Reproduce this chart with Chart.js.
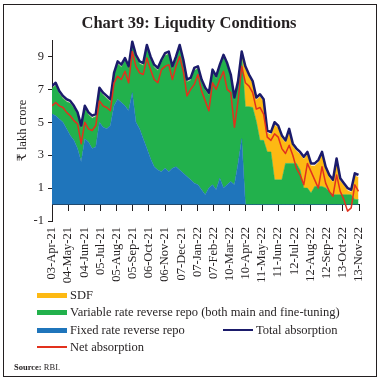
<!DOCTYPE html>
<html><head><meta charset="utf-8">
<script src="https://cdn.jsdelivr.net/npm/chart.js@4.4.1/dist/chart.umd.min.js"></script>
<style>
html,body{margin:0;padding:0;background:#fff;}
#wrap{position:relative;width:380px;height:383px;overflow:hidden;font-family:"Liberation Serif","Times New Roman",serif;color:#231f20;}
#frame{position:absolute;left:3px;top:4px;width:372px;height:371px;border:1px solid #231f20;}
#c{position:absolute;left:0;top:0;}
.t{position:absolute;white-space:nowrap;font-size:12.5px;line-height:14px;}
.sw{position:absolute;width:30px;}
</style></head><body>
<div id="wrap">
<div id="frame"></div>
<canvas id="c" width="380" height="383"></canvas>
<div class="t" style="left:0;width:378px;text-align:center;top:13px;font-size:16.5px;font-weight:bold;line-height:20px;">Chart 39: Liqudity Conditions</div>
<div class="sw" style="left:37px;top:292.5px;height:5px;background:#fdb913;"></div>
<div class="t" style="left:70px;top:288px;">SDF</div>
<div class="sw" style="left:37px;top:309.5px;height:5px;background:#22b14c;"></div>
<div class="t" style="left:70px;top:305px;">Variable rate reverse repo (both main and fine-tuning)</div>
<div class="sw" style="left:37px;top:327.5px;height:5px;background:#1f75bb;"></div>
<div class="t" style="left:70px;top:323px;">Fixed rate reverse repo</div>
<div class="sw" style="left:223px;top:329px;height:2px;background:#1b1b6b;"></div>
<div class="t" style="left:256px;top:323px;">Total absorption</div>
<div class="sw" style="left:37px;top:346px;height:2px;background:#e2311d;"></div>
<div class="t" style="left:70px;top:340px;">Net absorption</div>
<div class="t" style="left:14px;top:362px;font-size:8.5px;line-height:10px;"><b>Source:</b> RBI.</div>
</div>
<script>
// Daily axis: day 0 = 03-Apr-21, one sample per week
const stepDays = 7;
const tickDays = [0,31,62,93,124,155,186,217,248,279,310,341,372,403,434,465,496,527,558,589];
const tickLabels = ['03-Apr-21','04-May-21','04-Jun-21','05-Jul-21','05-Aug-21','05-Sep-21','06-Oct-21','06-Nov-21','07-Dec-21','07-Jan-22','07-Feb-22','10-Mar-22','10-Apr-22','11-May-22','11-Jun-22','12-Jul-22','12-Aug-22','12-Sep-22','13-Oct-22','13-Nov-22'];
const yTicks = [-1,1,3,5,7,9];

const fixedRR = [5.5,5.4,5.2,5.0,4.6,4.2,3.9,3.4,2.6,4.0,3.8,3.4,3.5,5.0,4.7,
  4.6,4.8,6.0,6.4,6.2,6.0,5.7,6.8,5.0,4.6,4.0,3.4,2.8,2.3,
  2.1,2.0,2.2,2.0,2.2,2.3,2.1,1.9,1.7,1.5,1.3,1.2,0.9,0.6,
  1.0,1.2,0.9,1.6,1.0,1.2,1.4,1.2,2.5,4.0,
  0,0,0,0,0,0,0,0,0,0,0,0,0,0,0,0,0,0,0,0,0,0,0,0,0,0,0,0,0,0,0,0];
const variableRR = [1.55,1.85,1.55,1.45,1.65,1.95,1.95,2.05,2.05,1.85,1.65,1.85,1.85,1.95,1.95,
  1.85,1.45,1.85,2.15,2.15,2.75,2.55,2.95,3.95,3.95,4.45,6.15,6.05,6.05,
  6.05,6.65,6.85,7.15,6.05,6.55,7.45,6.75,5.75,6.05,6.85,7.05,6.55,6.35,
  5.65,6.85,6.75,6.75,7.95,7.25,6.35,5.15,4.85,5.15,
  5.95,5.95,5.9,5.05,3.9,3.9,3.2,3.2,1.5,1.5,1.5,2.5,2.5,2.5,2.5,2.1,1.0,1.0,0.7,1.1,1.1,1.1,1.0,0.8,0.6,0.6,0.6,0.6,0.6,0.6,0.3,0.3];
const sdf = [0,0,0,0,0,0,0,0,0,0,0,0,0,0,0,0,0,0,0,0,0,0,0,0,0,0,0,0,0,0,0,0,0,0,0,0,0,0,0,0,0,0,0,0,0,0,0,0,0,0,0,0,0,
  2.3,1.8,1.45,1.3,2.65,2.35,1.15,1.05,3.35,3.15,2.55,1.25,1.95,1.05,0.75,0.95,1.75,2.05,1.65,1.25,1.45,1.95,1.15,0.85,0.75,2.05,0.85,0.55,0.25,0.15,1.45,1.35];
const totalAbs = [7.2,7.4,6.9,6.6,6.4,6.3,6.0,5.6,4.8,6.0,5.6,5.4,5.5,7.1,6.8,
  6.6,6.4,8.0,8.7,8.5,8.9,8.4,9.9,9.1,8.7,8.6,9.7,9.0,8.5,
  8.3,8.8,9.2,9.3,8.4,9.0,9.7,8.8,7.6,7.7,8.3,8.4,7.6,7.1,
  6.8,8.2,7.8,8.5,9.1,8.6,7.9,6.5,7.5,9.3,
  8.4,7.9,7.5,6.5,6.7,6.4,4.5,4.4,5.0,4.8,4.2,3.9,4.6,3.7,3.4,3.2,2.9,3.2,2.5,2.5,2.7,3.2,2.3,1.8,1.5,2.8,1.6,1.3,1.0,0.9,1.9,1.8];
const netAbs = [6.0,6.2,6.0,5.9,5.6,5.4,5.1,4.9,3.7,5.0,4.6,4.5,4.8,6.3,6.0,
  5.9,5.7,7.4,7.8,7.6,8.1,7.4,9.3,8.4,8.0,7.9,8.9,8.2,7.6,
  7.4,8.2,8.4,8.5,7.6,8.4,9.0,8.1,6.6,7.0,7.3,7.9,6.9,6.3,
  5.7,7.4,7.0,7.6,8.1,7.0,6.8,4.7,6.3,8.4,
  7.4,7.2,6.8,5.8,5.9,5.5,4.1,3.9,4.3,4.1,3.4,3.1,3.6,3.0,2.2,1.8,1.2,2.5,2.0,1.5,1.0,2.3,1.3,0.8,0.5,1.8,0.8,0.3,-0.4,-0.2,1.2,0.8];

const pts = arr => arr.map((v,i)=>({x:i*stepDays, y:v}));
const ink = '#231f20';
const fnt = {family:'"Liberation Serif","DejaVu Serif",serif', size:12.5};
const setDayTicks = s => { s.ticks = tickDays.map(v=>({value:v})); };

new Chart(document.getElementById('c'), {
  type:'line',
  data:{datasets:[
    {label:'Fixed rate reverse repo', data:pts(fixedRR), stack:'a', order:5, fill:'origin', backgroundColor:'#1f75bb', borderColor:'#1f75bb', borderWidth:0.5, pointRadius:0},
    {label:'Variable rate reverse repo (both main and fine-tuning)', data:pts(variableRR), stack:'a', order:5, fill:'-1', backgroundColor:'#22b14c', borderColor:'#22b14c', borderWidth:0.5, pointRadius:0},
    {label:'SDF', data:pts(sdf), stack:'a', order:5, fill:'-1', backgroundColor:'#fdb913', borderColor:'#fdb913', borderWidth:0.5, pointRadius:0},
    {label:'Total absorption', data:pts(totalAbs), stack:'t', order:1, fill:false, borderColor:'#1b1b6b', borderWidth:2.5, pointRadius:0, borderJoinStyle:'round'},
    {label:'Net absorption', data:pts(netAbs), stack:'n', order:0, fill:false, borderColor:'#e2311d', borderWidth:1.5, pointRadius:0, borderJoinStyle:'round'}
  ]},
  options:{
    responsive:false, animation:false, devicePixelRatio:1,
    layout:{padding:{left:10, top:40, right:18, bottom:100}},
    plugins:{legend:{display:false}, tooltip:{enabled:false}, title:{display:false}},
    scales:{
      x:{type:'linear', position:'bottom', min:0, max:589,
        afterBuildTicks:setDayTicks,
        ticks:{autoSkip:false, minRotation:90, maxRotation:90, padding:6, color:ink, font:fnt, callback:(v,i)=>tickLabels[i]},
        grid:{display:false, drawTicks:false}, border:{display:false},
        afterFit:s=>{ s.height = 62; }},
      x0:{type:'linear', axis:'x', position:{y:0}, min:0, max:589,
        afterBuildTicks:setDayTicks,
        ticks:{display:false},
        grid:{drawOnChartArea:false, drawTicks:true, tickLength:6, color:ink, lineWidth:1},
        border:{display:true, color:ink, width:1}},
      y:{type:'linear', stacked:true, min:-1, max:10,
        afterBuildTicks:s=>{ s.ticks = yTicks.map(v=>({value:v})); },
        ticks:{padding:4, color:ink, font:fnt},
        grid:{drawOnChartArea:false, drawTicks:true, tickLength:4, color:ink, lineWidth:1},
        border:{display:true, color:ink, width:1},
        title:{display:true, text:'₹ lakh crore', color:ink, font:fnt, padding:{top:5, bottom:0}},
        afterFit:s=>{ s.width = 42; }}
    }
  }
});
</script>
</body></html>
